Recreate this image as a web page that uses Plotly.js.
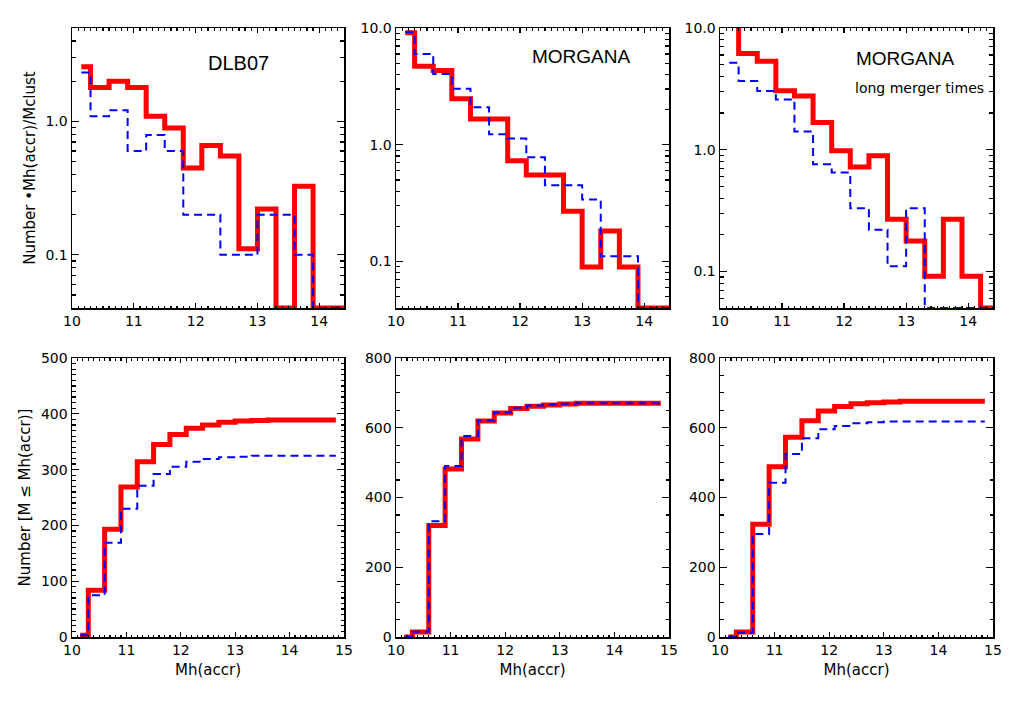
<!DOCTYPE html>
<html>
<head>
<meta charset="utf-8">
<script src="https://cdn.plot.ly/plotly-3.0.1.min.js"></script>
<style>
  body { margin: 0; background: #fff; }
  #chart { width: 1024px; height: 709px; }
</style>
</head>
<body>
<div id="chart"></div>
<script>
// bin centres in log Mh(accr), 0.3 dex bins
const mhBins = [10.15, 10.45, 10.75, 11.05, 11.35, 11.65, 11.95, 12.25, 12.55, 12.85, 13.15, 13.45, 13.75, 14.05, 14.35, 14.65];
// cumulative curves run a bit further out
const mhCum = [10.15, 10.45, 10.75, 11.05, 11.35, 11.65, 11.95, 12.25, 12.55, 12.85, 13.15, 13.45, 13.75, 14.05, 14.35, 14.85];

// differential: Number * Mh(accr) / Mclust (empty bins sit on the axis floor)
const dlbRed   = [2.56, 1.79, 2.0, 1.79, 1.09, 0.89, 0.447, 0.66, 0.55, 0.111, 0.221, 0.04, 0.327, 0.04, 0.04, 0.04];
const dlbBlue  = [2.32, 1.09, 1.21, 0.6, 0.79, 0.6, 0.2, 0.2, 0.1, 0.1, 0.2, 0.2, 0.1, 0.04, 0.04, 0.04];
const morRed   = [9.1, 4.7, 4.32, 2.48, 1.66, 1.66, 0.73, 0.55, 0.55, 0.27, 0.09, 0.183, 0.09, 0.04, 0.04, 0.04];
const morBlue  = [9.2, 6.0, 4.04, 3.02, 2.1, 1.23, 1.13, 0.78, 0.45, 0.45, 0.34, 0.111, 0.111, 0.04, 0.04, 0.04];
const longRed  = [15, 6.17, 5.33, 3.05, 2.76, 1.67, 0.98, 0.72, 0.89, 0.268, 0.178, 0.091, 0.268, 0.091, 0.05, 0.05];
const longBlue = [5.17, 3.66, 3.03, 2.59, 1.41, 0.76, 0.65, 0.33, 0.22, 0.11, 0.33, 0.05, 0.05, 0.05, 0.05, 0.05];

// cumulative: Number [M <= Mh(accr)]
const dlbCumRed   = [3, 84, 193, 269, 314, 345, 363, 374, 380, 385, 387, 388, 389, 389, 389, 389];
const dlbCumBlue  = [3, 75, 169, 230, 271, 292, 305, 314, 319, 322, 323, 325, 325, 325, 325, 325];
const morCumRed   = [0, 14, 320, 482, 568, 619, 642, 655, 662, 665, 668, 670, 670, 670, 670, 670];
const morCumBlue  = [0, 15, 332, 490, 576, 621, 644, 657, 664, 667, 669, 670, 670, 670, 670, 670];
const longCumRed  = [0, 14, 323, 488, 573, 620, 648, 661, 669, 672, 674, 676, 676, 676, 676, 676];
const longCumBlue = [0, 12, 295, 442, 525, 570, 596, 605, 613, 616, 618, 618, 618, 618, 618, 618];

const font = 'DejaVu Sans, sans-serif';
const labelFont = 'Liberation Sans, Arial, sans-serif';

function red(x, y, n) {
  return { x: x, y: y, xaxis: 'x' + n, yaxis: 'y' + n, type: 'scatter', mode: 'lines',
    line: { shape: 'hvh', color: '#ff0000', width: 5 }, hoverinfo: 'skip' };
}
function blue(x, y, n) {
  return { x: x, y: y, xaxis: 'x' + n, yaxis: 'y' + n, type: 'scatter', mode: 'lines',
    line: { shape: 'hvh', color: '#0000ff', width: 2, dash: '8px,5px' }, hoverinfo: 'skip' };
}

const data = [
  red(mhBins, dlbRed, ''), blue(mhBins, dlbBlue, ''),
  red(mhBins, morRed, 2), blue(mhBins, morBlue, 2),
  red(mhBins, longRed, 3), blue(mhBins, longBlue, 3),
  red(mhCum, dlbCumRed, 4), blue(mhCum, dlbCumBlue, 4),
  red(mhCum, morCumRed, 5), blue(mhCum, morCumBlue, 5),
  red(mhCum, longCumRed, 6), blue(mhCum, longCumBlue, 6)
];

const cols = [[72 / 1024, 344 / 1024], [396 / 1024, 669 / 1024], [720 / 1024, 993 / 1024]];
const topRow = [1 - 308 / 709, 1 - 28 / 709];
const botRow = [1 - 637 / 709, 1 - 358 / 709];

const frame = {
  showline: true, linecolor: '#000', linewidth: 1.5, mirror: 'ticks',
  ticks: 'inside', tickcolor: '#000', tickwidth: 1.2,
  showgrid: false, zeroline: false,
  tickfont: { family: font, size: 14, color: '#000' }
};
const titleFont = { family: font, size: 15, color: '#000' };

function xTop(i) {
  return Object.assign({}, frame, {
    domain: cols[i], anchor: i ? 'y' + (i + 1) : 'y', range: [10, 14.4],
    tickvals: [10, 11, 12, 13, 14], ticklen: 5,
    minor: { dtick: 0.1, tick0: 10, ticks: 'inside', ticklen: 2.5, tickcolor: '#000' }
  });
}
function xBot(i) {
  return Object.assign({}, frame, {
    domain: cols[i], anchor: 'y' + (i + 4), range: [10, 15],
    tick0: 10, dtick: 1, ticklen: 5,
    minor: { dtick: 0.1, tick0: 10, ticks: 'inside', ticklen: 2.5, tickcolor: '#000' },
    title: { text: 'Mh(accr)', font: titleFont, standoff: 7 }
  });
}
const logMinor = [0.04, 0.05, 0.06, 0.07, 0.08, 0.09, 0.2, 0.3, 0.4, 0.5, 0.6, 0.7, 0.8, 0.9, 2, 3, 4, 5, 6, 7, 8, 9];
function yTop(i, lo, hi) {
  return Object.assign({}, frame, {
    domain: topRow, anchor: i ? 'x' + (i + 1) : 'x', type: 'log',
    range: [Math.log10(lo), Math.log10(hi)],
    tickvals: [0.1, 1, 10], ticktext: ['0.1', '1.0', '10.0'], ticklen: 7,
    minor: { tickmode: 'array', tickvals: logMinor, ticks: 'inside', ticklen: 4, tickcolor: '#000' }
  });
}
function yBot(i, hi, step, minorStep) {
  return Object.assign({}, frame, {
    domain: botRow, anchor: 'x' + (i + 4), range: [0, hi],
    tick0: 0, dtick: step, ticklen: 7,
    minor: { dtick: minorStep, tick0: 0, ticks: 'inside', ticklen: 3.5, tickcolor: '#000' }
  });
}

function note(text, px, py, size, family) {
  return { text: text, x: px / 1024, y: 1 - py / 709, xref: 'paper', yref: 'paper',
    xanchor: 'center', yanchor: 'middle', showarrow: false,
    font: { size: size, family: family, color: '#000' } };
}

const layout = {
  width: 1024, height: 709,
  margin: { l: 0, r: 0, t: 0, b: 0 },
  paper_bgcolor: '#fff', plot_bgcolor: '#fff',
  showlegend: false,
  font: { family: font, color: '#000' },
  xaxis: xTop(0), xaxis2: xTop(1), xaxis3: xTop(2),
  xaxis4: xBot(0), xaxis5: xBot(1), xaxis6: xBot(2),
  yaxis: Object.assign(yTop(0, 0.04, 5), {
    title: { text: 'Number \u2022Mh(accr)/Mclust', font: titleFont, standoff: 6 }
  }),
  yaxis2: yTop(1, 0.04, 10),
  yaxis3: yTop(2, 0.05, 10),
  yaxis4: Object.assign(yBot(0, 500, 100, 10), {
    title: { text: 'Number [M \u2264 Mh(accr)]', font: titleFont, standoff: 6 }
  }),
  yaxis5: yBot(1, 800, 200, 50),
  yaxis6: yBot(2, 800, 200, 50),
  annotations: [
    note('DLB07', 238, 63, 20, labelFont),
    note('MORGANA', 581, 57, 19, labelFont),
    note('MORGANA', 905, 59, 19, labelFont),
    note('long merger times', 919, 88, 14, font)
  ]
};

Plotly.newPlot('chart', data, layout, { staticPlot: true });
</script>
</body>
</html>
